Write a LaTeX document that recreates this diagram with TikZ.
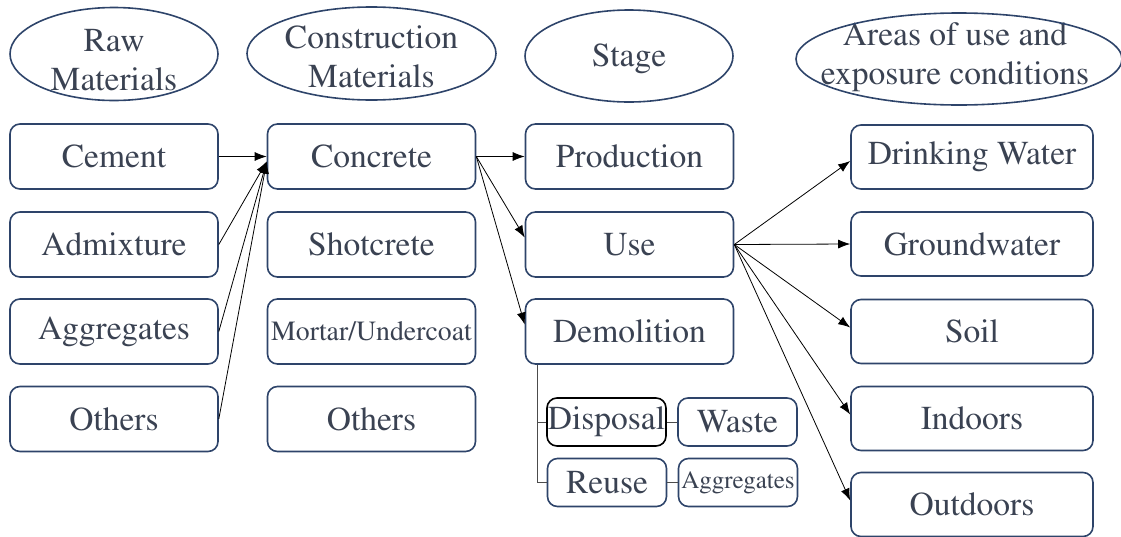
\documentclass[tikz,border=0pt]{standalone}
\usepackage[T1]{fontenc}
\usepackage{times}
\usetikzlibrary{arrows.meta}
\definecolor{boxblue}{RGB}{46,68,106}
\definecolor{txtgray}{RGB}{58,66,82}
\begin{document}
\begin{tikzpicture}[x=1pt,y=-1pt,>={Latex[length=12pt,width=9pt]},
  box/.style={draw=boxblue,line width=1.6pt,rounded corners=10pt,minimum width=208pt,minimum height=65pt,inner sep=0pt,text=txtgray,font=\fontsize{33.5}{40}\selectfont},
  areabox/.style={box,minimum width=242pt,minimum height=64pt},
  subbox/.style={box,minimum width=119pt,minimum height=48pt},
  head/.style={align=center,text=txtgray,inner sep=0pt,font=\fontsize{33.5}{39}\selectfont},
  headline/.style={draw=boxblue,line width=1.6pt},
  link/.style={->,line width=0.8pt},
  branch/.style={draw=black!70,line width=1pt}]
\useasboundingbox (0,0) rectangle (1121,536);
% headings
\node[head] (rawhead) at (114,60) {Raw\\Materials};
\draw[headline] (114,54) ellipse [x radius=104,y radius=46.5];
\node[head] (conhead) at (371.5,56.5) {Construction\\Materials};
\draw[headline] (371.5,53.5) ellipse [x radius=124.5,y radius=46.5];
\node[head] (stagehead) at (629,59) {Stage};
\draw[headline] (629,56) ellipse [x radius=104,y radius=46];
\node[head] (areahead) at (955,57.5) {Areas of use and\\exposure conditions};
\draw[headline] (959,59) ellipse [x radius=163,y radius=46];
% raw materials
\foreach \n/\y/\t in {1/156.5/Cement,2/244.5/Admixture,3/331.5/Aggregates,4/419/Others}
  \node[box] (raw\n) at (114,\y) {\t};
% construction materials
\node[box] (conc) at (371.5,156.5) {Concrete};
\node[box] (shot) at (371.5,244.5) {Shotcrete};
\node[box,font=\fontsize{27.8}{31}\selectfont] (mortar) at (371.5,331.5) {Mortar/Undercoat};
\node[box] (others) at (371.5,419) {Others};
% stages
\node[box] (prod) at (629.5,156.5) {Production};
\node[box] (use) at (629.5,244.5) {Use};
\node[box] (demo) at (629.5,331.5) {Demolition};
\node[subbox,draw=black] (disp) at (606.5,422) {Disposal};
\node[subbox] (waste) at (737.5,422) {Waste};
\node[subbox] (reuse) at (607,482.5) {Reuse};
\node[subbox,font=\fontsize{25}{28}\selectfont] (aggr) at (738,482.5) {Aggregates};
% areas
\node[areabox] (drink) at (972,157) {Drinking Water};
\node[areabox] (ground) at (972,244) {Groundwater};
\node[areabox] (soil) at (972,331.5) {Soil};
\node[areabox] (indoor) at (972,418.5) {Indoors};
\node[areabox] (outdoor) at (972,504.5) {Outdoors};
% connectors
\draw[link] (raw1) -- (conc);
\foreach \n in {2,3,4}{\draw[link] (raw\n.east) -- ([yshift=-5pt]conc.west);}
\draw[link] (conc.east) -- (prod.west);
\foreach \s in {use,demo}{\draw[link] (conc.east) -- ([yshift=7pt]\s.west);}
\draw[link] (use.east) -- ([yshift=-4pt]drink.west);
\draw[link] (use.east) -- (ground.west);
\foreach \s in {soil,indoor,outdoor}{\draw[link] (use.east) -- ([yshift=4pt]\s.west);}
\draw[branch] ([xshift=13pt]demo.south west) |- (disp.west);
\draw[branch] ([xshift=13pt]demo.south west) |- (reuse.west);
\draw[branch] (disp) -- (waste);
\draw[branch] (reuse) -- (aggr);
\end{tikzpicture}
\end{document}
